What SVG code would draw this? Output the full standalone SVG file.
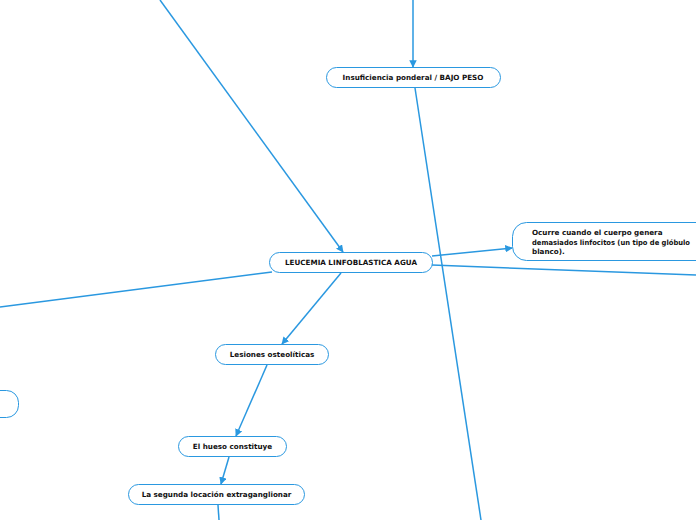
<svg xmlns="http://www.w3.org/2000/svg" width="696" height="520" viewBox="0 0 696 520">
<style>
.n{fill:#fff;stroke:#2a98e0;stroke-width:1}
.t{font-family:"DejaVu Sans",Verdana,sans-serif;font-weight:bold;font-size:7.2px;fill:#111}
.c{stroke:#2a98e0;stroke-width:1.5;fill:none}
</style>
<defs>
<marker id="a" viewBox="0 0 10 10" refX="9" refY="5" markerWidth="5" markerHeight="5" orient="auto-start-reverse" markerUnits="strokeWidth">
<path d="M0,0 L10,5 L0,10 z" fill="#2a98e0"/>
</marker>
</defs>
<rect width="696" height="520" fill="#fff"/>
<g id="connectors">
<line class="c" x1="413" y1="0" x2="413" y2="67" marker-end="url(#a)"/>
<line class="c" x1="160" y1="0" x2="343" y2="252" marker-end="url(#a)"/>
<line class="c" x1="415" y1="88" x2="481" y2="520"/>
<line class="c" x1="432" y1="256" x2="512" y2="248" marker-end="url(#a)"/>
<line class="c" x1="432" y1="265" x2="696" y2="275"/>
<line class="c" x1="272" y1="272" x2="0" y2="307"/>
<line class="c" x1="341" y1="273" x2="282" y2="344" marker-end="url(#a)"/>
<line class="c" x1="267" y1="365" x2="236" y2="436" marker-end="url(#a)"/>
<line class="c" x1="229" y1="457" x2="221" y2="484" marker-end="url(#a)"/>
<line class="c" x1="218" y1="505" x2="219" y2="520"/>
</g>
<g id="n1"><rect class="n" x="326.5" y="67.5" width="174" height="20" rx="10"/><text class="t" x="413" y="80" text-anchor="middle">Insuficiencia ponderal / BAJO PESO</text></g>
<g id="n2"><rect class="n" x="269.5" y="252.5" width="163" height="20" rx="10"/><text class="t" x="351" y="265" text-anchor="middle">LEUCEMIA LINFOBLASTICA AGUA</text></g>
<g id="n3"><rect class="n" x="512.5" y="222.5" width="200" height="38" rx="14"/><text class="t" x="532" y="235">Ocurre cuando el cuerpo genera</text><text class="t" x="532" y="244.5" textLength="158" lengthAdjust="spacingAndGlyphs">demasiados linfocitos (un tipo de glóbulo</text><text class="t" x="532" y="254">blanco).</text></g>
<g id="n4"><rect class="n" x="-30.5" y="390.5" width="49" height="27" rx="12"/></g>
<g id="n5"><rect class="n" x="215.5" y="344.5" width="113" height="20" rx="10"/><text class="t" x="272" y="357" text-anchor="middle">Lesiones osteolíticas</text></g>
<g id="n6"><rect class="n" x="178.5" y="436.5" width="108" height="20" rx="10"/><text class="t" x="232.5" y="449" text-anchor="middle">El hueso constituye</text></g>
<g id="n7"><rect class="n" x="128.5" y="484.5" width="176" height="20" rx="10"/><text class="t" x="216.5" y="497" text-anchor="middle">La segunda locación extraganglionar</text></g>
</svg>
